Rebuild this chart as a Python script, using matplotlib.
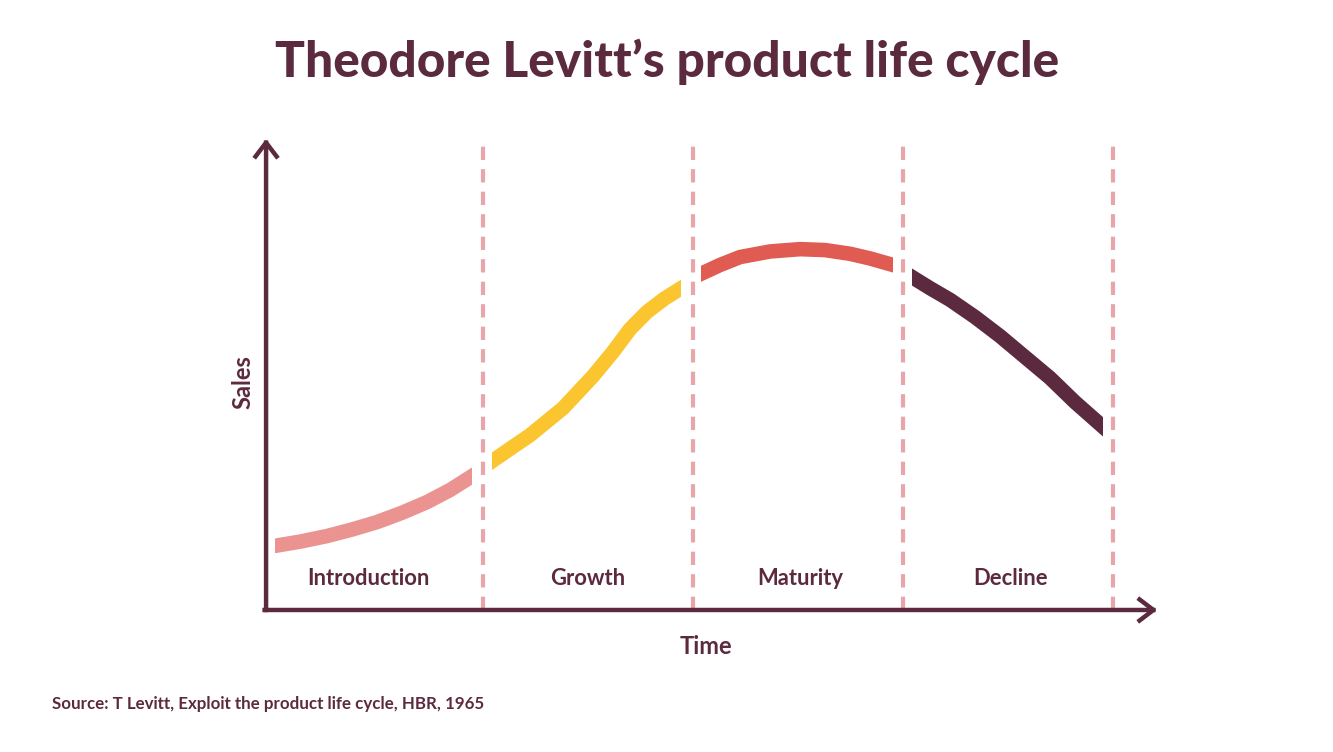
import matplotlib
matplotlib.use("Agg")
import matplotlib.pyplot as plt
from matplotlib.patches import Rectangle

# ---- data (time in stage units, sales in % of axis height) ----
stages = ["Introduction", "Growth", "Maturity", "Decline"]
stage_bounds = [1, 2, 3, 4]

intro_t = [0.010, 0.129, 0.257, 0.376, 0.495, 0.614, 0.733, 0.843, 0.948]
intro_s = [13.8, 14.7, 15.9, 17.3, 18.9, 20.9, 23.2, 25.8, 28.8]

growth_t = [1.043, 1.133, 1.224, 1.381, 1.524, 1.619, 1.700, 1.781, 1.862, 1.943]
growth_s = [32.0, 34.8, 37.6, 43.4, 50.3, 55.5, 60.4, 64.1, 66.9, 69.2]

maturity_t = [2.038, 2.129, 2.224, 2.367, 2.510, 2.629, 2.748, 2.843, 2.952]
maturity_s = [72.3, 74.2, 75.9, 77.1, 77.6, 77.4, 76.6, 75.6, 74.2]

decline_t = [3.043, 3.129, 3.224, 3.343, 3.462, 3.581, 3.700, 3.819, 3.952]
decline_s = [71.6, 69.2, 66.7, 63.0, 58.9, 54.4, 49.9, 44.7, 39.4]

colors = ["#EB9391", "#FBC52F", "#E05B51", "#5C2A3F"]
maroon = "#5C2A3F"
dash_col = "#E8A6AA"

fig = plt.figure(figsize=(13.33, 7.52), dpi=100)
ax = fig.add_axes([0, 0, 1, 1])
ax.set_xlim(-1.3, 5.0476)
ax.set_ylim(-30.54, 131.18)
ax.axis("off")

# dashed stage boundaries
for b in stage_bounds:
    ax.plot([b, b], [0, 100], color=dash_col, lw=3.0,
            linestyle=(0, (3.2, 2.2)), solid_capstyle="butt",
            dash_capstyle="butt", zorder=1)

# curve segments with vertical cut ends
series = [(intro_t, intro_s), (growth_t, growth_s),
          (maturity_t, maturity_s), (decline_t, decline_s)]
for (t, s), c in zip(series, colors):
    line, = ax.plot(t, s, color=c, lw=10.5, solid_capstyle="projecting",
                    solid_joinstyle="round", zorder=3)
    clip = Rectangle((t[0], -50), t[-1] - t[0], 250, transform=ax.transData)
    line.set_clip_path(clip)

# axes with arrows
arrow_kw = dict(arrowstyle="->,head_length=0.5,head_width=0.38",
                lw=3.2, color=maroon, mutation_scale=20,
                shrinkA=0, shrinkB=0, capstyle="projecting")
ax.annotate("", xy=(-0.033, 101.3), xytext=(-0.033, 0.0),
            arrowprops=arrow_kw, zorder=4)
ax.annotate("", xy=(4.21, 0), xytext=(-0.04, 0),
            arrowprops=arrow_kw, zorder=4)

# stage labels
label_t = [0.456, 1.5, 2.51, 3.51]
for lab, x in zip(stages, label_t):
    ax.text(x, 6.7, lab, ha="center", va="center", fontsize=15.8,
            fontweight="bold", color=maroon, family="Lato")

ax.text(2.063, -7.9, "Time", ha="center", va="center", fontsize=17,
        fontweight="bold", color=maroon, family="Lato")
ax.text(-0.145, 49, "Sales", ha="center", va="center", fontsize=17,
        fontweight="bold", color=maroon, family="Lato", rotation=90)

fig.text(667.5 / 1333, 1 - 62 / 752, "Theodore Levitt\u2019s product life cycle",
         ha="center", va="center", fontsize=35.7, fontweight="black",
         color=maroon, family="Lato")
fig.text(52 / 1333, 1 - 704 / 752,
         "Source: T Levitt, Exploit the product life cycle, HBR, 1965",
         ha="left", va="center", fontsize=12.2, fontweight="bold",
         color=maroon, family="Lato")

fig.savefig("out.png", dpi=100, facecolor="white")
